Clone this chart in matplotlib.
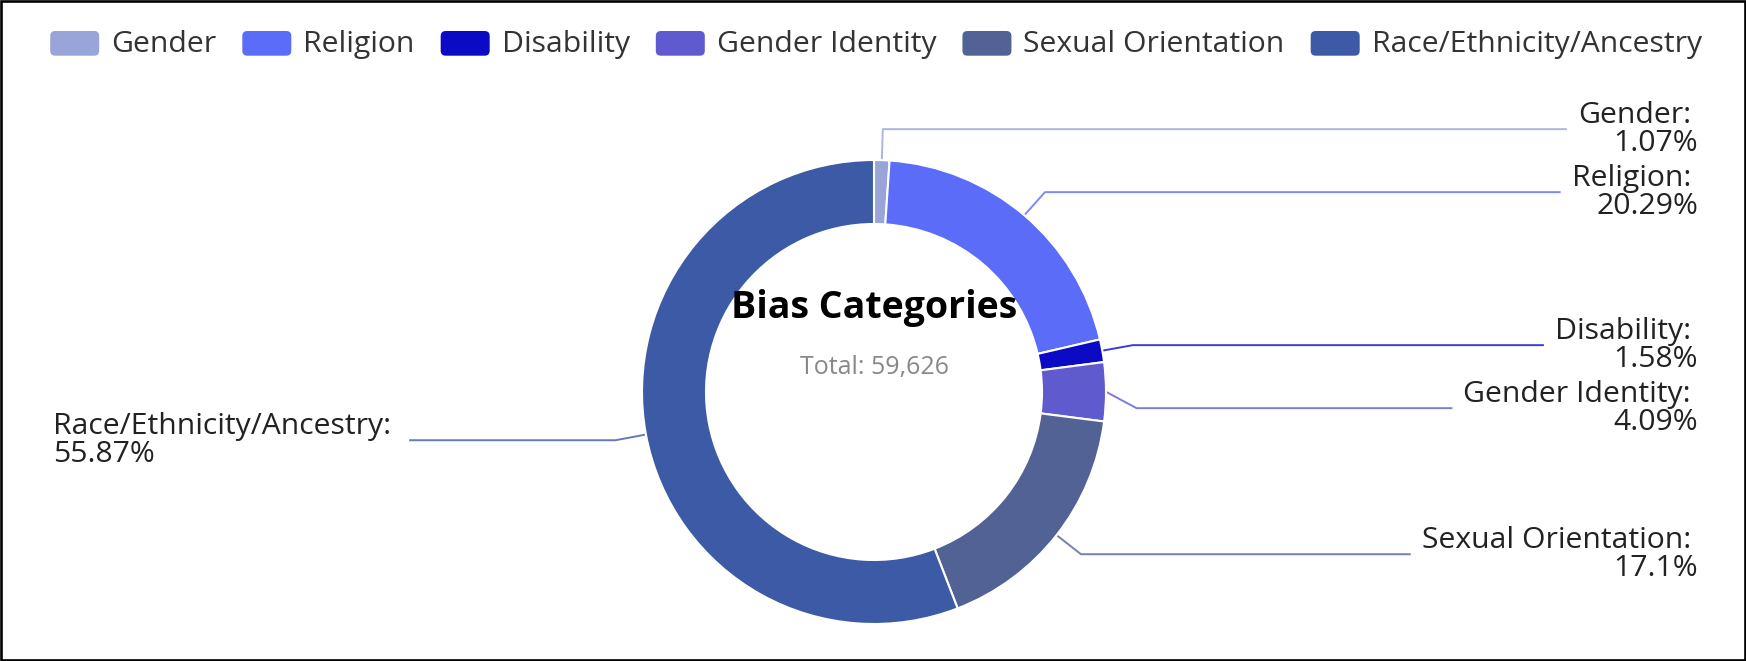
import matplotlib
matplotlib.use('Agg')
import matplotlib.pyplot as plt
from matplotlib.patches import FancyBboxPatch, Rectangle
import numpy as np

# ---------------- data ----------------
categories = ['Gender', 'Religion', 'Disability', 'Gender Identity',
              'Sexual Orientation', 'Race/Ethnicity/Ancestry']
percentages = [1.07, 20.29, 1.58, 4.09, 17.1, 55.87]
colors = ['#99A4D8', '#5B6CF9', '#0B0BC6', '#5F5BCE', '#536294', '#3D5AA6']
title_text = 'Bias Categories'
subtitle_text = 'Total: 59,626'

# ---------------- layout ----------------
W, H = 1746, 661
plt.rcParams['font.family'] = ['Open Sans', 'DejaVu Sans']
fig = plt.figure(figsize=(W / 100, H / 100), dpi=100)
ax = fig.add_axes([0, 0, 1, 1])

cx, cy = 874, 392          # pixel coords, y from top
R, r = 232, 168


def Y(y):
    return H - y


ax.pie(percentages, colors=colors, startangle=90, counterclock=False,
       center=(cx, Y(cy)), radius=R, frame=False,
       wedgeprops=dict(width=R - r, edgecolor='white', linewidth=1.5))
ax.set_xlim(0, W)
ax.set_ylim(0, H)
ax.set_aspect('auto')
ax.axis('off')

# ---------------- labels ----------------
FS = 21.7
txt_color = '#222222'
cum = np.cumsum([0] + percentages[:-1])
mids = cum + np.array(percentages) / 2
angles = mids / 100 * 2 * np.pi
L = 31
items = []
for i, a in enumerate(angles):
    sx, sy = cx + R * np.sin(a), cy - R * np.cos(a)
    ex, ey = cx + (R + L) * np.sin(a), cy - (R + L) * np.cos(a)
    side = 1 if np.sin(a) >= 0 else -1
    items.append(dict(i=i, sx=sx, sy=sy, ex=ex, ey=ey, side=side, shifted=False))

min_gap = 63
for side in (1, -1):
    its = sorted([t for t in items if t['side'] == side], key=lambda t: t['ey'])
    for k in range(1, len(its)):
        if its[k]['ey'] - its[k - 1]['ey'] < min_gap:
            its[k]['ey'] = its[k - 1]['ey'] + min_gap
            its[k]['shifted'] = True
for t in items:
    if t['shifted']:
        dy = t['ey'] - cy
        t['ex'] = cx + t['side'] * np.sqrt(max((R + L) ** 2 - dy ** 2, 0))

right_edge = 1698
left_edge = 53
space_w = 7
for t in items:
    i = t['i']
    name = categories[i] + ':'
    pct = f'{percentages[i]:g}%'
    if t['side'] == 1:
        t1 = ax.text(right_edge - space_w, Y(t['ey'] - 6.5), name, ha='right',
                     va='baseline', fontsize=FS, color=txt_color)
        t2 = ax.text(right_edge, Y(t['ey'] + 22), pct, ha='right',
                     va='baseline', fontsize=FS, color=txt_color)
    else:
        t1 = ax.text(left_edge, Y(t['ey'] - 6.5), name, ha='left',
                     va='baseline', fontsize=FS, color=txt_color)
        t2 = ax.text(left_edge, Y(t['ey'] + 22), pct, ha='left',
                     va='baseline', fontsize=FS, color=txt_color)
    t['t1'], t['t2'] = t1, t2

# title in the centre
ax.text(cx, Y(318), title_text, ha='center', va='baseline', fontsize=27,
        fontweight='bold', color='black')
ax.text(cx, Y(374), subtitle_text, ha='center', va='baseline', fontsize=18,
        color='#888888')

# legend texts (measure first)
leg_texts = [ax.text(0, Y(52.3), c, ha='left', va='baseline', fontsize=FS,
                     color='#333333') for c in categories]

fig.canvas.draw()
renderer = fig.canvas.get_renderer()

# label lines
for t in items:
    b1 = t['t1'].get_window_extent(renderer)
    b2 = t['t2'].get_window_extent(renderer)
    if t['side'] == 1:
        endx = min(b1.x0, b2.x0) - 11
    else:
        endx = max(b1.x1 + space_w, b2.x1) + 11
    ax.plot([t['sx'], t['ex'], endx], [Y(t['sy']), Y(t['ey']), Y(t['ey'])],
            color=colors[t['i']], lw=1.4, alpha=0.8, solid_capstyle='butt',
            solid_joinstyle='round', zorder=0)

# legend layout
icon_w, icon_h = 49, 24.7
icon_gap = 12
item_gap = 26
widths = [lt.get_window_extent(renderer).width for lt in leg_texts]
total = sum(icon_w + icon_gap + w for w in widths) + item_gap * (len(widths) - 1)
x = W / 2 + 3 - total / 2
for lt, w, c in zip(leg_texts, widths, colors):
    ax.add_patch(FancyBboxPatch((x, Y(31 + icon_h)), icon_w, icon_h,
                                boxstyle='round,pad=0,rounding_size=5',
                                facecolor=c, edgecolor='none'))
    lt.set_x(x + icon_w + icon_gap)
    x += icon_w + icon_gap + w + item_gap

# border
ax.add_patch(Rectangle((1.3, 1.3), W - 2.6, H - 2.6, fill=False,
                       edgecolor='black', lw=1.9, zorder=10, clip_on=False))

fig.savefig('out.png', dpi=100)
